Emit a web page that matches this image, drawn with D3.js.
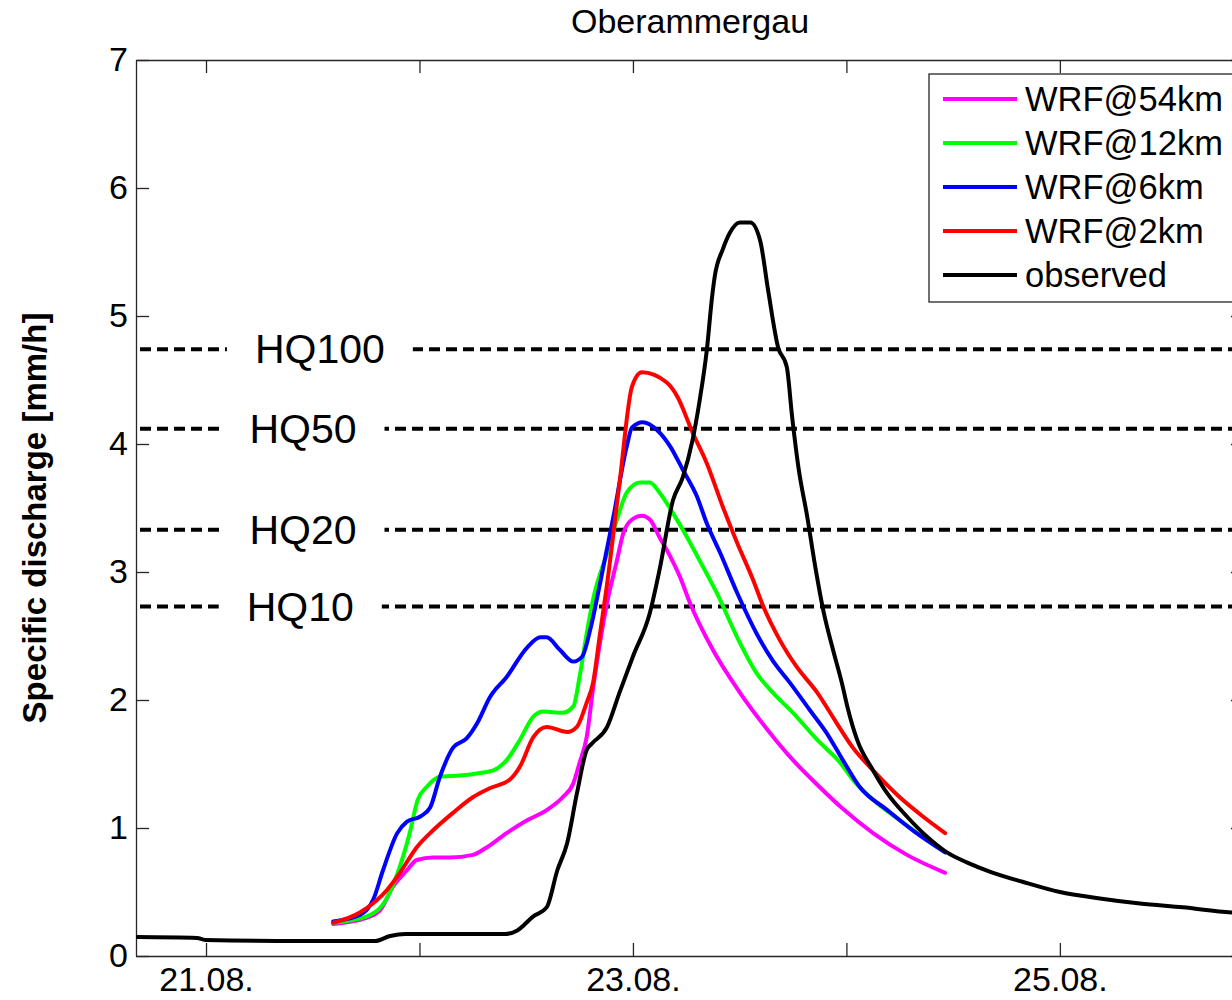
<!DOCTYPE html>
<meta charset="utf-8">
<style>
body { margin: 0; background: #fff; }
svg { font-family: "Liberation Sans", Arial, sans-serif; }
.curve { fill: none; stroke-width: 4; stroke-linejoin: round; stroke-linecap: round; }
.hq { stroke: #000; stroke-width: 4; stroke-dasharray: 11,6; }
.axis path, .axis line { stroke: #262626; stroke-width: 1.3; }
</style>
<svg width="1232" height="1000"></svg>
<script src="https://d3js.org/d3.v7.min.js"></script>
<script>
// hours since 21.08. 00:00, specific discharge [mm/h]
var wrf54 = [[14.3,0.25],[18.1,0.30],[19.6,0.36],[21.0,0.54],[22.6,0.67],[23.7,0.75],[25.5,0.77],[27.4,0.77],[30.0,0.79],
  [31.6,0.85],[33.8,0.96],[36.1,1.06],[38.3,1.14],[40.1,1.24],[41.3,1.35],[42.0,1.51],[42.8,1.71],[43.5,2.08],[44.3,2.45],
  [45.1,2.76],[46.2,3.09],[46.9,3.30],[47.9,3.41],[49.0,3.44],[49.9,3.41],[51.0,3.27],[52.2,3.12],[53.3,2.96],[54.4,2.76],
  [57.0,2.39],[60.0,2.06],[63.1,1.77],[66.0,1.53],[68.7,1.34],[71.6,1.15],[75.0,0.96],[78.8,0.79],[83.1,0.65]];
var wrf12 = [[14.3,0.26],[18.1,0.31],[20.4,0.46],[21.8,0.70],[22.9,0.96],[23.8,1.22],[24.8,1.32],[26.3,1.40],[28.6,1.41],
  [30.8,1.43],[32.3,1.45],[33.8,1.53],[35.3,1.69],[36.8,1.87],[37.9,1.91],[40.1,1.90],[41.3,1.95],[42.0,2.18],[42.8,2.52],
  [43.5,2.78],[45.2,3.17],[46.3,3.43],[47.3,3.62],[48.8,3.70],[49.9,3.70],[51.0,3.62],[52.5,3.46],[54.1,3.27],[55.5,3.09],
  [57.4,2.84],[60.0,2.45],[61.9,2.21],[63.7,2.06],[66.0,1.90],[68.7,1.69],[71.3,1.51],[72.7,1.38],[75.0,1.22],[78.0,1.06],[83.1,0.81]];
var wrf6 = [[14.3,0.27],[17.3,0.32],[18.8,0.44],[19.9,0.67],[21.5,0.96],[22.6,1.05],[24.1,1.09],[25.2,1.16],[26.3,1.40],
  [27.8,1.63],[29.3,1.70],[30.5,1.82],[31.9,2.02],[33.8,2.18],[36.1,2.41],[37.6,2.49],[38.3,2.49],[39.8,2.39],[41.3,2.30],
  [42.3,2.34],[43.2,2.55],[44.3,2.91],[45.8,3.43],[47.3,3.98],[47.9,4.13],[49.1,4.17],[50.7,4.11],[52.2,3.98],[53.6,3.80],
  [55.2,3.59],[56.3,3.38],[57.8,3.15],[59.7,2.84],[61.9,2.52],[63.7,2.31],[65.7,2.13],[67.9,1.92],[69.8,1.74],[71.6,1.53],
  [73.5,1.32],[76.6,1.14],[79.5,0.98],[83.1,0.81]];
var wrf2 = [[14.3,0.26],[17.3,0.34],[20.4,0.52],[21.8,0.65],[23.7,0.85],[25.5,0.98],[27.8,1.12],[30.0,1.24],[31.9,1.31],
  [34.2,1.38],[35.3,1.48],[36.8,1.71],[38.3,1.79],[40.6,1.75],[41.7,1.79],[42.8,1.98],[43.5,2.13],[44.3,2.52],[45.1,2.91],
  [46.5,3.70],[47.9,4.45],[49.0,4.56],[51.8,4.48],[53.0,4.37],[54.7,4.09],[56.3,3.85],[58.1,3.51],[59.7,3.23],[61.5,2.94],
  [62.6,2.74],[64.5,2.47],[66.4,2.26],[68.7,2.06],[70.9,1.82],[72.7,1.63],[75.0,1.45],[78.0,1.24],[80.6,1.09],[83.1,0.96]];
var observed = [[-7.8,0.148],[-1.0,0.141],[-0.1,0.125],[10.6,0.117],[19.0,0.117],[20.7,0.156],[22.4,0.172],[33.6,0.172],
  [35.0,0.20],[36.8,0.31],[38.3,0.38],[39.5,0.67],[40.6,0.88],[41.7,1.27],[42.8,1.61],[43.4,1.66],[45.1,1.79],[46.5,2.06],
  [48.0,2.34],[49.9,2.68],[51.0,3.02],[52.5,3.56],[53.6,3.74],[54.7,4.03],[55.5,4.34],[56.3,4.73],[56.9,5.15],[57.2,5.31],
  [58.1,5.52],[58.9,5.65],[60.0,5.73],[61.2,5.73],[62.3,5.59],[63.2,5.20],[64.3,4.76],[65.3,4.60],[65.9,4.21],[66.6,3.82],
  [67.6,3.43],[68.5,3.04],[69.4,2.70],[70.5,2.39],[71.5,2.13],[72.1,1.95],[73.2,1.69],[75.0,1.45],[76.6,1.27],[78.8,1.09],
  [81.1,0.93],[83.3,0.81],[85.6,0.73],[88.1,0.66],[91.8,0.58],[96.0,0.50],[100.5,0.45],[105.0,0.41],[109.8,0.38],[115.3,0.34],[116.7,0.335]];

var seriesNames = ['WRF@54km', 'WRF@12km', 'WRF@6km', 'WRF@2km', 'observed'];
var seriesColors = ['#ff00ff', '#00ff00', '#0000ff', '#ff0000', '#000000'];
var seriesData = [wrf54, wrf12, wrf6, wrf2, observed];

var hqNames = ['HQ100', 'HQ50', 'HQ20', 'HQ10'];
var hqValues = [4.74, 4.12, 3.33, 2.73];
var hqLabelHours = [12.8, 10.9, 10.9, 10.6];

var yTicks = [0, 1, 2, 3, 4, 5, 6, 7];

var start = new Date(2005, 7, 21, 0, 0);
function toDate(h) { return new Date(start.getTime() + h * 3600 * 1000); }

var svgElem = d3.select('svg');
var margin = { top: 60, left: 136, bottom: 44, right: -12 };
var width = +svgElem.attr('width') - margin.left - margin.right;
var height = +svgElem.attr('height') - margin.top - margin.bottom;

var x = d3.scaleTime().domain([toDate(-7.87), toDate(116.7)]).range([0, width]);
var y = d3.scaleLinear().domain([0, 7]).range([height, 0]);

svgElem.append('text')
  .attr('x', margin.left + width / 2)
  .attr('y', 33)
  .attr('text-anchor', 'middle')
  .attr('font-size', 34)
  .text('Oberammergau');

svgElem.append('text')
  .attr('transform', 'translate(46,' + (margin.top + height / 2 + 10) + ') rotate(-90)')
  .attr('text-anchor', 'middle')
  .attr('font-size', 33)
  .attr('font-weight', 'bold')
  .text('Specific discharge [mm/h]');

var g = svgElem.append('g')
  .attr('transform', `translate(${margin.left}, ${margin.top})`);

g.append('clipPath').attr('id', 'clip')
  .append('rect').attr('width', width).attr('height', height);

var fmt = d3.timeFormat('%d.%m.');
var days = d3.timeDay.range(toDate(-7.87), toDate(116.7));

g.append('g')
  .attr('class', 'axis')
  .attr('transform', `translate(0, ${height})`)
  .call(d3.axisBottom(x).tickValues(days).tickSizeInner(-13).tickSizeOuter(0).tickPadding(11)
    .tickFormat(function (d) { return d.getDate() % 2 ? fmt(d) : ''; }));
g.append('g')
  .attr('class', 'axis')
  .call(d3.axisTop(x).tickValues(days).tickSizeInner(-13).tickSizeOuter(0).tickFormat(''));
g.append('g')
  .attr('class', 'axis')
  .call(d3.axisLeft(y).tickValues(yTicks).tickSizeInner(-13).tickSizeOuter(0).tickPadding(8)
    .tickFormat(d3.format('d')));
g.append('g')
  .attr('class', 'axis')
  .attr('transform', `translate(${width}, 0)`)
  .call(d3.axisRight(y).tickValues(yTicks).tickSizeInner(-13).tickSizeOuter(0).tickFormat(''));
g.selectAll('.axis text')
  .attr('font-size', 34)
  .attr('font-family', '"Liberation Sans", Arial, sans-serif')
  .attr('fill', '#000');

var plot = g.append('g').attr('clip-path', 'url(#clip)');

// flood return levels
plot.selectAll('.hq')
  .data(hqValues)
  .enter()
  .append('line')
  .attr('class', 'hq')
  .attr('x1', 4)
  .attr('x2', width)
  .attr('y1', function (d) { return y(d); })
  .attr('y2', function (d) { return y(d); });

var line = d3.line()
  .curve(d3.curveMonotoneX)
  .x(function (d) { return x(toDate(d[0])); })
  .y(function (d) { return y(d[1]); });

plot.selectAll('.curve')
  .data(seriesData)
  .enter()
  .append('path')
  .attr('class', 'curve')
  .attr('stroke', function (d, i) { return seriesColors[i]; })
  .attr('d', line);

// labels on the HQ lines
hqNames.forEach(function (name, i) {
  var lg = plot.append('g')
    .attr('transform', `translate(${x(toDate(hqLabelHours[i]))}, ${y(hqValues[i])})`);
  var bg = lg.append('rect').attr('fill', '#fff');
  var t = lg.append('text')
    .attr('text-anchor', 'middle')
    .attr('y', 14)
    .attr('font-size', 41)
    .text(name);
  var w = t.node().getComputedTextLength();
  bg.attr('x', -w / 2 - 28).attr('width', w + 56).attr('y', -34).attr('height', 64);
});

// legend
var legend = g.append('g').attr('transform', `translate(${929 - margin.left}, ${74 - margin.top})`);
legend.append('rect')
  .attr('width', 310)
  .attr('height', 228)
  .attr('fill', '#fff')
  .attr('stroke', '#262626')
  .attr('stroke-width', 1.3);
var rows = legend.selectAll('.row')
  .data(seriesNames)
  .enter()
  .append('g')
  .attr('transform', function (d, i) { return `translate(0, ${25 + i * 44})`; });
rows.append('line')
  .attr('x1', 14).attr('x2', 88)
  .attr('stroke-width', 4)
  .attr('stroke', function (d, i) { return seriesColors[i]; });
rows.append('text')
  .attr('x', 96)
  .attr('y', 12)
  .attr('font-size', 34.5)
  .text(function (d) { return d; });
</script>
